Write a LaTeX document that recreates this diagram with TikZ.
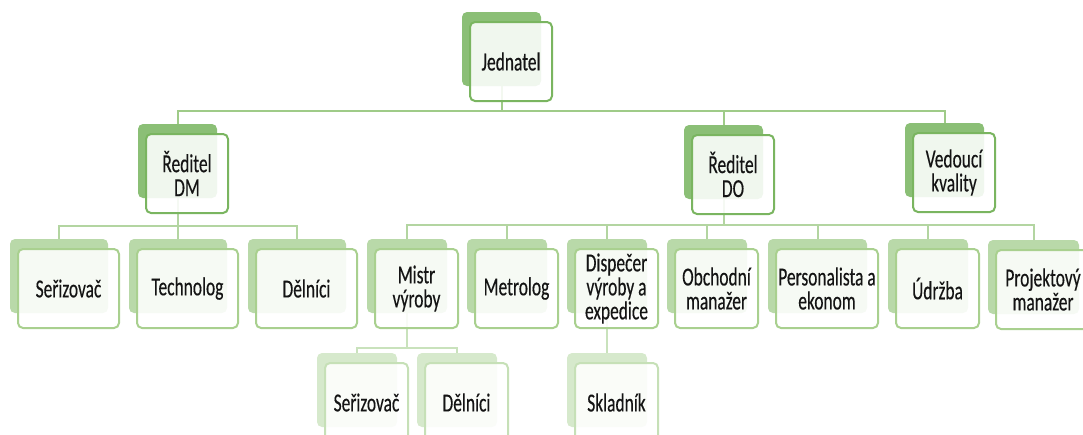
\documentclass[tikz,border=0pt]{standalone}
\usepackage{fontspec}
\setmainfont{Carlito}[FakeStretch=0.67, FakeBold=0.3]
\pgfdeclarelayer{wires}
\pgfsetlayers{wires,main}

\definecolor{fillA}{HTML}{8BBF76}
\definecolor{lineA}{HTML}{7AB560}
\definecolor{fillB}{HTML}{B9D9A9}
\definecolor{lineB}{HTML}{A9D08F}
\definecolor{fillC}{HTML}{D6E9CC}
\definecolor{lineC}{HTML}{C6E0B7}
\definecolor{wireA}{HTML}{9FCB88}
\definecolor{wireB}{HTML}{B3D5A1}
\definecolor{wireC}{HTML}{C9E2BC}
\definecolor{ink}{HTML}{141414}

\tikzset{
  backbox/.style={rectangle, rounded corners=5pt, inner sep=0pt, outer sep=0pt,
                  minimum height=74pt},
  frontbox/.style={rectangle, rounded corners=5pt, inner sep=0pt, outer sep=0pt,
                   minimum height=79pt, line width=2pt, fill=white, fill opacity=0.88,
                   text opacity=1, align=center, text=ink,
                   font=\fontsize{26}{24}\selectfont},
  backA/.style={backbox, fill=fillA},
  backB/.style={backbox, fill=fillB},
  backC/.style={backbox, fill=fillC},
  frontA/.style={frontbox, draw=lineA},
  frontB/.style={frontbox, draw=lineB},
  frontC/.style={frontbox, draw=lineC},
  wire/.style={line width=2pt},
}

% name, level, left, top, width, label
\newcommand\orgbox[6]{%
  \node[back#2, minimum width=#5, anchor=north west] (#1) at (#3,#4) {};
  \node[front#2, minimum width=#5+3, anchor=north west]
    (#1t) at ([shift={(8,10)}]#1.north west) {#6};
}

\begin{document}
\begin{tikzpicture}[x=1pt, y=-1pt]
\useasboundingbox (0,0) rectangle (1083,434);

% top
\orgbox{jed}{A}{462}{12}{79}{Jednatel}
% second row
\orgbox{rdm}{A}{138}{124}{79}{Ředitel\\DM}
\orgbox{rdo}{A}{684}{125}{79}{Ředitel\\DO}
\orgbox{vk}{A}{905}{123}{79}{Vedoucí\\kvality}
% third row, DM branch
\orgbox{ser}{B}{10}{239}{98}{Seřizovač}
\orgbox{tech}{B}{129}{239}{98}{Technolog}
\orgbox{del}{B}{248}{239}{98}{Dělníci}
% third row, DO branch
\orgbox{mis}{B}{367}{239}{80}{Mistr\\výroby}
\orgbox{met}{B}{467}{239}{80}{Metrolog}
\orgbox{dis}{B}{567}{239}{80}{Dispečer\\výroby a\\expedice}
\orgbox{obch}{B}{667}{239}{80}{Obchodní\\manažer}
\orgbox{pers}{B}{768}{239}{99}{Personalista a\\ekonom}
\orgbox{udr}{B}{888}{239}{80}{Údržba}
\orgbox{proj}{B}{988}{240}{91}{Projektový\\manažer}
% fourth row
\orgbox{ser2}{C}{317}{353}{80}{Seřizovač}
\orgbox{del2}{C}{417}{353}{80}{Dělníci}
\orgbox{skl}{C}{567}{353}{80}{Skladník}

\begin{pgfonlayer}{wires}
  % bus rails below each parent
  \coordinate (busJ) at ([yshift=-25pt]jed.south);
  \coordinate (busDM) at ([yshift=-28pt]rdm.south);
  \coordinate (busDO) at ([yshift=-26pt]rdo.south);
  \coordinate (busM) at ([yshift=-35pt]mis.south);

  \draw[wire, wireA] (jed.south) -- (busJ)
    foreach \c in {rdm,rdo,vk} { (busJ) -| (\c.north) };
  \draw[wire, wireB] (rdm.south) -- (busDM)
    foreach \c in {ser,tech,del} { (busDM) -| (\c.north) };
  \draw[wire, wireB] (rdo.south) -- (busDO)
    foreach \c in {mis,met,dis,obch,pers,udr,proj} { (busDO) -| (\c.north) };
  \draw[wire, wireC] (mis.south) -- (busM)
    foreach \c in {ser2,del2} { (busM) -| (\c.north) };
  \draw[wire, wireC] (dis.south) -- (skl.north);
\end{pgfonlayer}
\end{tikzpicture}
\end{document}
